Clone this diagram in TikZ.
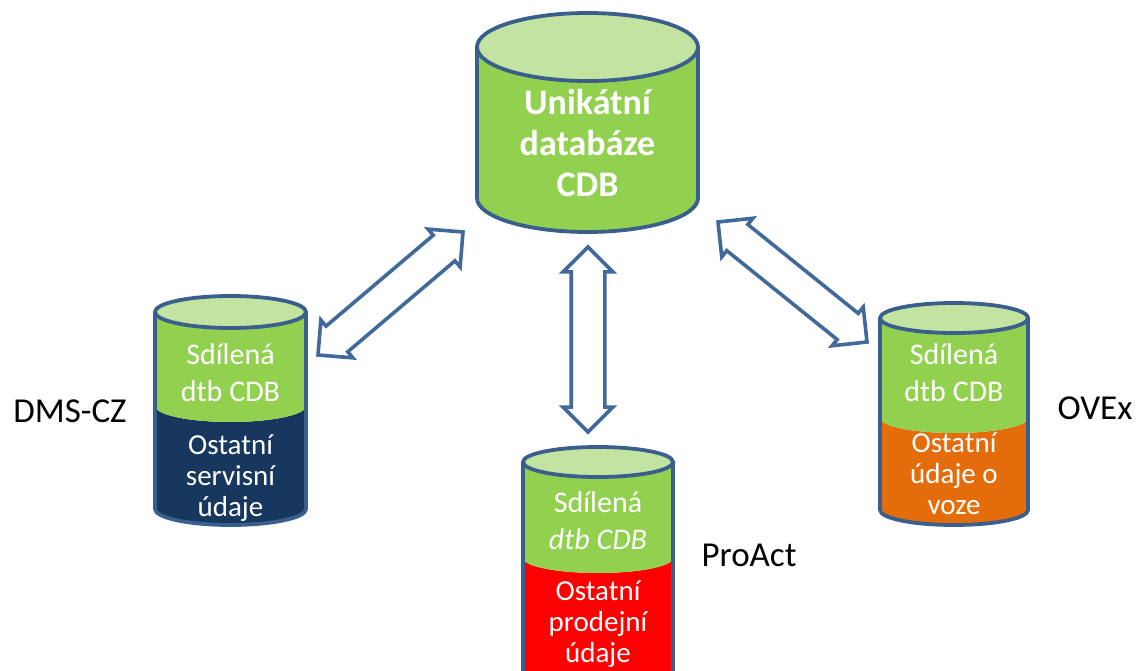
\documentclass[tikz,border=0pt]{standalone}
\usepackage{fontspec}
\setmainfont{Carlito}
\usetikzlibrary{shapes.arrows, calc, positioning}

\definecolor{dbgreen}{HTML}{92D050}
\definecolor{dbtop}{HTML}{C3E4A0}
\definecolor{dbline}{HTML}{3A5F8C}
\definecolor{dbnavy}{HTML}{17375E}
\definecolor{dbred}{HTML}{FF0000}
\definecolor{dborange}{HTML}{E46C0A}
\definecolor{arrline}{HTML}{41699C}

\begin{document}
\begin{tikzpicture}[x=1pt, y=-1pt,
  rim/.style={draw=dbline, line width=3.8pt},
  uptext/.style={text=white, align=center, font=\fontsize{30pt}{37pt}\selectfont},
  lowtext/.style={text=white, align=center, font=\fontsize{29pt}{31pt}\selectfont},
  sysname/.style={text=black, font=\fontsize{35pt}{40pt}\selectfont},
  dblarrow/.style={double arrow, draw=arrline, line width=3.6pt, fill=white,
    inner xsep=0pt, inner ysep=15pt, double arrow head extend=8pt}]
\useasboundingbox (0,0) rectangle (1144,671);
\clip (0,0) rectangle (1144,671);
% central database
\fill[dbgreen] (477,47) -- (477,198) arc[start angle=180, end angle=360, x radius=110.5pt, y radius=34pt] -- (698,47) -- cycle;
\draw[rim, fill=dbtop] (587.5,47) ellipse [x radius=110.5pt, y radius=34pt];
\draw[rim] (477,47) -- (477,198) arc[start angle=180, end angle=360, x radius=110.5pt, y radius=34pt] -- (698,47);
\node[text=white, align=center, font=\fontsize{36pt}{41pt}\selectfont\bfseries] (cdbtxt) at (587.5,143) {Unikátní\\databáze\\CDB};
% DMS-CZ
\fill[dbnavy] (155,406) arc[start angle=180, end angle=360, x radius=75.5pt, y radius=16pt] -- (306,509) arc[start angle=0, end angle=-180, x radius=75.5pt, y radius=16pt] -- cycle;
\fill[dbgreen] (155,312) -- (155,406) arc[start angle=180, end angle=360, x radius=75.5pt, y radius=16pt] -- (306,312) -- cycle;
\draw[rim, fill=dbtop] (230.5,312) ellipse [x radius=75.5pt, y radius=16pt];
\draw[rim] (155,312) -- (155,509) arc[start angle=180, end angle=360, x radius=75.5pt, y radius=16pt] -- (306,312);
\node[uptext] (dmsup) at (230.5,373) {Sdílená\\dtb CDB};
\node[lowtext] (dmslow) at (230.5,478) {Ostatní\\servisní\\údaje};
\node[sysname] (dms) at (70,411) {DMS-CZ};
% ProAct
\fill[dbred] (523,558) arc[start angle=180, end angle=360, x radius=75pt, y radius=15pt] -- (673,672) arc[start angle=0, end angle=-180, x radius=75pt, y radius=15pt] -- cycle;
\fill[dbgreen] (523,462) -- (523,558) arc[start angle=180, end angle=360, x radius=75pt, y radius=15pt] -- (673,462) -- cycle;
\draw[rim, fill=dbtop] (598,462) ellipse [x radius=75pt, y radius=15pt];
\draw[rim] (523,462) -- (523,672) arc[start angle=180, end angle=360, x radius=75pt, y radius=15pt] -- (673,462);
\node[uptext] (proup) at (598,521) {Sdílená\\\textit{dtb CDB}};
\node[lowtext] (prolow) at (598,624) {Ostatní\\prodejní\\údaje};
\node[sysname] (pro) at (749,555) {ProAct};
% OVEx
\fill[dborange] (880,418) arc[start angle=180, end angle=360, x radius=74pt, y radius=15pt] -- (1028,510) arc[start angle=0, end angle=-180, x radius=74pt, y radius=15pt] -- cycle;
\fill[dbgreen] (880,318) -- (880,418) arc[start angle=180, end angle=360, x radius=74pt, y radius=15pt] -- (1028,318) -- cycle;
\draw[rim, fill=dbtop] (954,318) ellipse [x radius=74pt, y radius=15pt];
\draw[rim] (880,318) -- (880,510) arc[start angle=180, end angle=360, x radius=74pt, y radius=15pt] -- (1028,318);
\node[uptext] (ovxup) at (954,373) {Sdílená\\dtb CDB};
\node[lowtext] (ovxlow) at (954,474) {Ostatní\\údaje o\\voze};
\node[sysname] (ovx) at (1095,408) {OVEx};
% links
\coordinate (cdbL) at (463,232);
\coordinate (dmsR) at (318,355);
\coordinate (cdbB) at (588,247);
\coordinate (proT) at (588,432);
\coordinate (cdbR) at (718,222);
\coordinate (ovxL) at (867,342);
\foreach \a/\b/\nm in {cdbL/dmsR/arrL, cdbB/proT/arrM, cdbR/ovxL/arrR}
  \path let \p1=($(\b)-(\a)$), \n1={atan2(\y1,\x1)}, \n2={veclen(\x1,\y1)} in
    node[dblarrow, minimum height=\n2, rotate=\n1] (\nm) at ($(\a)!0.5!(\b)$) {};
\end{tikzpicture}
\end{document}
